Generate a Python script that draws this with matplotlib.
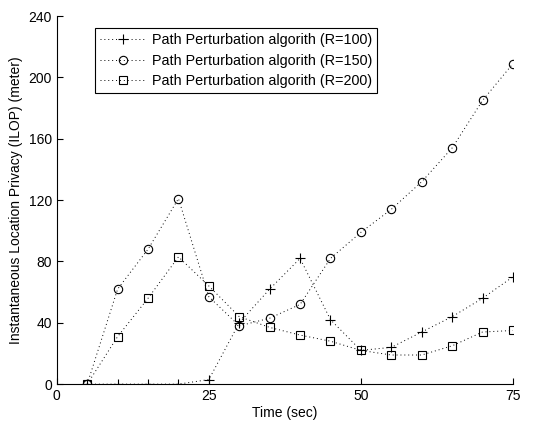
import matplotlib
matplotlib.use('Agg')
import matplotlib.pyplot as plt

plt.rcParams['font.family'] = ['Liberation Sans', 'DejaVu Sans']
plt.rcParams['font.size'] = 10

# time axis (sec)
t = [5, 10, 15, 20, 25, 30, 35, 40, 45, 50, 55, 60, 65, 70, 75]

# ILOP values
r100 = [0, 0, 0, 0, 3, 40, 62, 82, 42, 22, 24, 34, 44, 56, 70]
r150 = [0, 62, 88, 121, 57, 38, 43, 52, 82, 99, 114, 132, 154, 185, 209]
r200 = [0, 31, 56, 83, 64, 44, 37, 32, 28, 22, 19, 19, 25, 34, 35]

labels = ['Path Perturbation algorith (R=100)',
          'Path Perturbation algorith (R=150)',
          'Path Perturbation algorith (R=200)']

fig = plt.figure(figsize=(5.36, 4.24), dpi=100)
ax = fig.add_axes([0.106, 0.094, 0.851, 0.868])

dots = (0, (1, 3))
ax.plot(t, r100, linestyle=dots, linewidth=0.7, color='k', marker='+',
        markersize=7, markeredgewidth=0.8, label=labels[0])
ax.plot(t, r150, linestyle=dots, linewidth=0.7, color='k', marker='o',
        markersize=6, markerfacecolor='none', markeredgewidth=0.8, label=labels[1])
ax.plot(t, r200, linestyle=dots, linewidth=0.7, color='k', marker='s',
        markersize=5.5, markerfacecolor='none', markeredgewidth=0.8, label=labels[2])

ax.set_xlim(0, 75)
ax.set_ylim(0, 240)
ax.set_xticks([0, 25, 50, 75])
ax.set_yticks(range(0, 241, 40))
ax.tick_params(direction='in', length=4, width=0.8)
ax.spines['top'].set_visible(False)
ax.spines['right'].set_visible(False)
for s in ['left', 'bottom']:
    ax.spines[s].set_linewidth(0.8)

ax.set_xlabel('Time (sec)', labelpad=2)
ax.set_ylabel('Instantaneous Location Privacy (ILOP) (meter)', labelpad=4)

leg = ax.legend(loc='upper left', bbox_to_anchor=(0.083, 0.967), frameon=True,
                fancybox=False, edgecolor='k', framealpha=1, borderpad=0.35,
                handlelength=3.2, handletextpad=0.4, labelspacing=0.45,
                borderaxespad=0, fontsize=10.4)
leg.get_frame().set_linewidth(0.8)

fig.savefig('out.png', dpi=100)
